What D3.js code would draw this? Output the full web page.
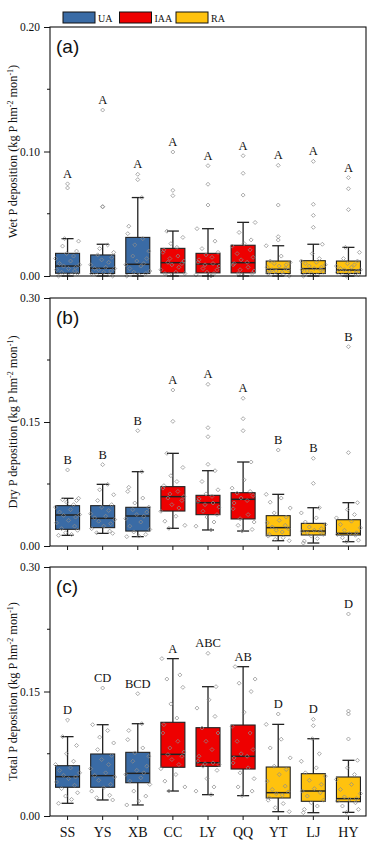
<!DOCTYPE html>
<html>
<head>
<meta charset="utf-8">
<script src="https://d3js.org/d3.v7.min.js"></script>
<style>
  body { margin: 0; background: #fff; }
  text { font-family: "Liberation Serif", "Times New Roman", serif; }
</style>
</head>
<body>
<svg id="chart" width="371" height="850"></svg>
<script>
// ---- data ----
var categories = ["SS", "YS", "XB", "CC", "LY", "QQ", "YT", "LJ", "HY"];
var areaOf = ["UA", "UA", "UA", "IAA", "IAA", "IAA", "RA", "RA", "RA"];
var legendGroups = ["UA", "IAA", "RA"];

// box stats: [lower whisker, q1, median, q3, upper whisker]
var wetBox = [
  [0.000, 0.0022, 0.0080, 0.0182, 0.0300],
  [0.000, 0.0020, 0.0062, 0.0169, 0.0255],
  [0.000, 0.0020, 0.0094, 0.0310, 0.0630],
  [0.000, 0.0025, 0.0107, 0.0222, 0.0361],
  [0.000, 0.0025, 0.0096, 0.0182, 0.0380],
  [0.000, 0.0025, 0.0107, 0.0247, 0.0431],
  [0.000, 0.0020, 0.0054, 0.0120, 0.0243],
  [0.000, 0.0020, 0.0059, 0.0123, 0.0255],
  [0.000, 0.0020, 0.0048, 0.0120, 0.0230]
];
var wetPoints = [
  [0.000, 0.001, 0.001, 0.002, 0.003, 0.004, 0.005, 0.006, 0.007, 0.008, 0.009, 0.010, 0.012, 0.014, 0.016, 0.018, 0.020, 0.024, 0.028, 0.030, 0.0707, 0.074],
  [0.000, 0.001, 0.001, 0.002, 0.003, 0.004, 0.005, 0.006, 0.006, 0.007, 0.009, 0.011, 0.013, 0.015, 0.017, 0.019, 0.022, 0.025, 0.0555, 0.0558, 0.1333],
  [0.000, 0.001, 0.002, 0.003, 0.004, 0.006, 0.008, 0.009, 0.010, 0.012, 0.014, 0.016, 0.020, 0.025, 0.030, 0.034, 0.040, 0.063, 0.0774, 0.0817],
  [0.001, 0.002, 0.002, 0.003, 0.005, 0.007, 0.009, 0.010, 0.011, 0.012, 0.014, 0.016, 0.019, 0.021, 0.023, 0.026, 0.031, 0.036, 0.0645, 0.0688, 0.0996],
  [0.000, 0.001, 0.002, 0.003, 0.005, 0.006, 0.008, 0.009, 0.010, 0.011, 0.013, 0.015, 0.017, 0.019, 0.022, 0.028, 0.038, 0.057, 0.0737, 0.0886],
  [0.001, 0.002, 0.002, 0.004, 0.005, 0.007, 0.009, 0.010, 0.011, 0.013, 0.015, 0.018, 0.021, 0.024, 0.026, 0.029, 0.035, 0.043, 0.065, 0.0825, 0.0966],
  [0.000, 0.001, 0.001, 0.002, 0.003, 0.003, 0.004, 0.005, 0.005, 0.006, 0.007, 0.008, 0.009, 0.010, 0.011, 0.012, 0.016, 0.0243, 0.0289, 0.0316, 0.057, 0.0889],
  [0.000, 0.001, 0.001, 0.002, 0.003, 0.004, 0.005, 0.005, 0.006, 0.007, 0.008, 0.009, 0.010, 0.011, 0.012, 0.014, 0.018, 0.0255, 0.0391, 0.0487, 0.0576, 0.0921],
  [0.000, 0.001, 0.001, 0.002, 0.003, 0.003, 0.004, 0.005, 0.005, 0.006, 0.007, 0.008, 0.009, 0.010, 0.012, 0.014, 0.019, 0.023, 0.0533, 0.0701, 0.079]
];
var wetLetters = ["A", "A", "A", "A", "A", "A", "A", "A", "A"];

var dryBox = [
  [0.0129, 0.0202, 0.0375, 0.0488, 0.0577],
  [0.0153, 0.0222, 0.0335, 0.0488, 0.0746],
  [0.0113, 0.0181, 0.0363, 0.0468, 0.0899],
  [0.0214, 0.0423, 0.0597, 0.0718, 0.1121],
  [0.0194, 0.0379, 0.0524, 0.0613, 0.0911],
  [0.0181, 0.0327, 0.0565, 0.0645, 0.1016],
  [0.0064, 0.0125, 0.0222, 0.0367, 0.0625],
  [0.0036, 0.0133, 0.0181, 0.0274, 0.0463],
  [0.0052, 0.0133, 0.0153, 0.0318, 0.0524]
];
var dryPoints = [
  [0.0129, 0.014, 0.016, 0.019, 0.021, 0.024, 0.028, 0.031, 0.035, 0.037, 0.038, 0.041, 0.044, 0.047, 0.050, 0.053, 0.055, 0.056, 0.0577, 0.092],
  [0.0153, 0.016, 0.018, 0.021, 0.024, 0.027, 0.030, 0.032, 0.034, 0.036, 0.039, 0.043, 0.047, 0.050, 0.055, 0.062, 0.068, 0.0746, 0.0984],
  [0.0113, 0.012, 0.014, 0.017, 0.020, 0.024, 0.029, 0.033, 0.036, 0.038, 0.041, 0.044, 0.047, 0.052, 0.058, 0.066, 0.071, 0.0899, 0.1395],
  [0.0214, 0.025, 0.030, 0.036, 0.042, 0.046, 0.050, 0.055, 0.058, 0.060, 0.063, 0.066, 0.070, 0.073, 0.078, 0.085, 0.095, 0.1121, 0.1508, 0.1887],
  [0.0194, 0.024, 0.029, 0.035, 0.038, 0.042, 0.047, 0.050, 0.052, 0.054, 0.057, 0.060, 0.063, 0.068, 0.078, 0.0911, 0.0988, 0.1322, 0.1431, 0.1956],
  [0.0181, 0.020, 0.025, 0.029, 0.033, 0.038, 0.045, 0.052, 0.055, 0.058, 0.061, 0.064, 0.066, 0.070, 0.080, 0.1016, 0.1395, 0.154, 0.1787],
  [0.0064, 0.008, 0.010, 0.012, 0.014, 0.017, 0.019, 0.021, 0.023, 0.025, 0.028, 0.031, 0.035, 0.040, 0.046, 0.053, 0.058, 0.0625, 0.1161],
  [0.0036, 0.006, 0.009, 0.012, 0.014, 0.016, 0.017, 0.018, 0.019, 0.021, 0.023, 0.026, 0.029, 0.034, 0.040, 0.0463, 0.0758, 0.1061],
  [0.0052, 0.007, 0.010, 0.013, 0.014, 0.015, 0.016, 0.019, 0.022, 0.026, 0.030, 0.034, 0.038, 0.044, 0.0524, 0.1129, 0.2411]
];
var dryLetters = ["B", "B", "B", "A", "A", "A", "B", "B", "B"];

var totalBox = [
  [0.0153, 0.0346, 0.0474, 0.0606, 0.0956],
  [0.0193, 0.0346, 0.0486, 0.0747, 0.1100],
  [0.0133, 0.0401, 0.0514, 0.0767, 0.1112],
  [0.0301, 0.0587, 0.0743, 0.1129, 0.1896],
  [0.0257, 0.0598, 0.0642, 0.1064, 0.1558],
  [0.0245, 0.0566, 0.0719, 0.1096, 0.1799],
  [0.0052, 0.0217, 0.0281, 0.0590, 0.1104],
  [0.0040, 0.0177, 0.0301, 0.0510, 0.0931],
  [0.0044, 0.0172, 0.0209, 0.0470, 0.0671]
];
var totalPoints = [
  [0.0153, 0.020, 0.024, 0.028, 0.033, 0.037, 0.041, 0.045, 0.047, 0.049, 0.052, 0.055, 0.058, 0.062, 0.066, 0.075, 0.085, 0.0956, 0.1157],
  [0.0193, 0.022, 0.025, 0.030, 0.034, 0.038, 0.043, 0.047, 0.049, 0.052, 0.057, 0.062, 0.068, 0.073, 0.080, 0.088, 0.095, 0.103, 0.110, 0.1542],
  [0.0133, 0.018, 0.024, 0.030, 0.038, 0.042, 0.046, 0.050, 0.052, 0.055, 0.060, 0.066, 0.072, 0.076, 0.082, 0.092, 0.103, 0.1112, 0.1474],
  [0.0301, 0.035, 0.042, 0.050, 0.057, 0.062, 0.068, 0.072, 0.074, 0.077, 0.082, 0.090, 0.100, 0.110, 0.118, 0.135, 0.155, 0.165, 0.170, 0.1896],
  [0.0257, 0.030, 0.035, 0.045, 0.055, 0.060, 0.062, 0.063, 0.064, 0.066, 0.072, 0.080, 0.090, 0.100, 0.106, 0.120, 0.130, 0.140, 0.1558, 0.196],
  [0.0245, 0.030, 0.035, 0.045, 0.052, 0.058, 0.064, 0.070, 0.072, 0.075, 0.080, 0.090, 0.100, 0.108, 0.125, 0.150, 0.160, 0.165, 0.1799],
  [0.0052, 0.010, 0.015, 0.019, 0.022, 0.025, 0.027, 0.029, 0.032, 0.036, 0.042, 0.050, 0.056, 0.060, 0.070, 0.082, 0.0925, 0.1104, 0.1229],
  [0.0040, 0.008, 0.012, 0.016, 0.019, 0.024, 0.028, 0.030, 0.033, 0.038, 0.043, 0.048, 0.052, 0.058, 0.066, 0.075, 0.0931, 0.1088, 0.1165],
  [0.0044, 0.008, 0.012, 0.016, 0.018, 0.020, 0.021, 0.023, 0.027, 0.032, 0.038, 0.044, 0.050, 0.058, 0.0671, 0.0928, 0.1229, 0.1265, 0.2434]
];
var totalLetters = ["D", "CD", "BCD", "A", "ABC", "AB", "D", "D", "D"];

var wetTicks = [0, 0.10, 0.20], wetMinor = [0.05, 0.15];
var dryTicks = [0, 0.15, 0.30], dryMinor = [0.075, 0.225];

// ---- style / layout ----
var colors = { UA: "#3a6ba5", IAA: "#ee0000", RA: "#ffc20e" };
var jitter = [-9, 4, -2, 10, -6, 7, -11, 1, 8, -4, 12, -8, 3, -12, 6, -1, 9, -5, 11, -3, 5, -10];

var svg = d3.select("#chart");
var left = 50, right = 366;

var x = d3.scaleBand().domain(categories).range([left, right]);
var boxW = 24, capW = 12;

var panels = [
  { tag: "(a)", name: "Wet", top: 27, bottom: 276, max: 0.20, ticks: wetTicks, minor: wetMinor, box: wetBox, pts: wetPoints, letters: wetLetters },
  { tag: "(b)", name: "Dry", top: 298, bottom: 546, max: 0.30, ticks: dryTicks, minor: dryMinor, box: dryBox, pts: dryPoints, letters: dryLetters },
  { tag: "(c)", name: "Total", top: 567, bottom: 816, max: 0.30, ticks: dryTicks, minor: dryMinor, box: totalBox, pts: totalPoints, letters: totalLetters }
];

var diamond = d3.symbol().type(d3.symbolSquare).size(8);

panels.forEach(function(p, pi) {
  var y = d3.scaleLinear().domain([0, p.max]).range([p.bottom, p.top]);
  var g = svg.append("g");
  var cx = function(i) { return x(categories[i]) + x.bandwidth() / 2; };

  // boxes
  p.box.forEach(function(b, i) {
    var c = cx(i);
    var bg = g.append("g");
    bg.append("line").attr("x1", c).attr("x2", c).attr("y1", y(b[0])).attr("y2", y(b[4]))
      .attr("stroke", "#222").attr("stroke-width", 1.3);
    [b[0], b[4]].forEach(function(v) {
      bg.append("line").attr("x1", c - capW / 2).attr("x2", c + capW / 2)
        .attr("y1", y(v)).attr("y2", y(v)).attr("stroke", "#222").attr("stroke-width", 1.3);
    });
    bg.append("rect").attr("x", c - boxW / 2).attr("width", boxW)
      .attr("y", y(b[3])).attr("height", y(b[1]) - y(b[3]))
      .attr("fill", colors[areaOf[i]]).attr("stroke", "#222").attr("stroke-width", 1.1);
    bg.append("line").attr("x1", c - boxW / 2).attr("x2", c + boxW / 2)
      .attr("y1", y(b[2])).attr("y2", y(b[2])).attr("stroke", "#222").attr("stroke-width", 1.5);
  });

  // points
  p.pts.forEach(function(arr, i) {
    var c = cx(i), b = p.box[i];
    g.selectAll(null).data(arr).enter().append("path")
      .attr("d", diamond)
      .attr("transform", function(v, k) {
        var dx = (v <= b[4] + 1e-9) ? jitter[(k + i * 3) % jitter.length] : 0;
        return "translate(" + (c + dx) + "," + y(v) + ") rotate(45)";
      })
      .attr("fill", "none").attr("stroke", "#8c8c8c").attr("stroke-width", 0.7);
  });

  // letters
  p.letters.forEach(function(l, i) {
    g.append("text").attr("x", cx(i)).attr("y", y(d3.max(p.pts[i])) - 6)
      .attr("text-anchor", "middle").attr("font-size", 12.5).attr("fill", "#111").text(l);
  });

  // frame
  g.append("rect").attr("x", left).attr("y", p.top).attr("width", right - left).attr("height", p.bottom - p.top)
    .attr("fill", "none").attr("stroke", "#111").attr("stroke-width", 1.1);

  // y axis
  var ya = g.append("g").attr("transform", "translate(" + left + ",0)")
    .call(d3.axisLeft(y).tickValues(p.ticks).tickSize(6).tickFormat(d3.format(".2f")));
  ya.select(".domain").remove();
  ya.selectAll("text").attr("font-family", "Liberation Serif").attr("font-size", 11.5).attr("fill", "#111").attr("dx", "-1");
  ya.selectAll("line").attr("stroke", "#111");
  g.selectAll(null).data(p.minor).enter().append("line")
    .attr("x1", left - 3).attr("x2", left).attr("y1", function(d) { return y(d); }).attr("y2", function(d) { return y(d); })
    .attr("stroke", "#111");

  // x axis ticks
  var xa = g.append("g").attr("transform", "translate(0," + p.bottom + ")")
    .call(d3.axisBottom(x).tickSize(4).tickFormat(pi === 2 ? null : ""));
  xa.select(".domain").remove();
  xa.selectAll("line").attr("stroke", "#111");
  xa.selectAll("text").attr("font-family", "Liberation Serif").attr("font-size", 14).attr("fill", "#111").attr("dy", "1.0em");

  // panel tag
  g.append("text").attr("x", left + 6).attr("y", p.top + 26)
    .style("font-family", "Liberation Sans, Arial, sans-serif").attr("font-size", 19).attr("fill", "#111").text(p.tag);

  // y title
  var t = g.append("text")
    .attr("transform", "translate(17," + ((p.top + p.bottom) / 2) + ") rotate(-90)")
    .attr("text-anchor", "middle").attr("font-size", 12.3).attr("fill", "#111");
  t.append("tspan").text(p.name + " P deposition (kg P hm");
  t.append("tspan").attr("font-size", 8).attr("dy", -4.5).text("-2");
  t.append("tspan").attr("dy", 4.5).text(" mon");
  t.append("tspan").attr("font-size", 8).attr("dy", -4.5).text("-1");
  t.append("tspan").attr("dy", 4.5).text(")");
});

// legend
var lg = svg.append("g").attr("transform", "translate(63,12)");
legendGroups.forEach(function(k, i) {
  var gx = i * 56.5;
  lg.append("rect").attr("x", gx).attr("y", 0).attr("width", 32).attr("height", 11)
    .attr("fill", colors[k]).attr("stroke", "#111").attr("stroke-width", 1);
  lg.append("text").attr("x", gx + 35).attr("y", 9.5).attr("font-size", 10).attr("fill", "#111").text(k);
});
</script>
</body>
</html>
